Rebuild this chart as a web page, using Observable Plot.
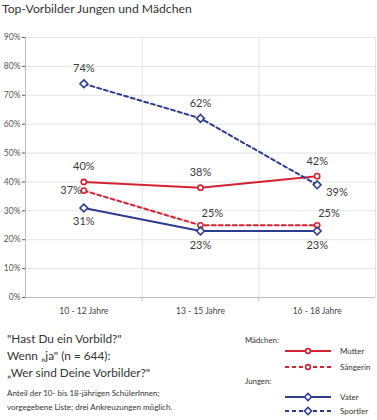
<!DOCTYPE html>
<html>
<head>
<meta charset="utf-8">
<script src="https://cdn.jsdelivr.net/npm/d3@7"></script>
<script src="https://cdn.jsdelivr.net/npm/@observablehq/plot@0.6"></script>
<style>
  html, body { margin: 0; padding: 0; background: #fff; }
  #wrap { position: relative; width: 377px; height: 420px; overflow: hidden; font-family: Lato, "Open Sans", sans-serif; color: #333; }
  #title { position: absolute; left: 2px; top: 1px; font-size: 12.2px; line-height: 16px; color: #333; white-space: nowrap; }
  #chart { position: absolute; left: 0; top: 22px; }
  #bottom { position: absolute; left: 0; top: 322px; }
</style>
</head>
<body>
<div id="wrap">
  <div id="title">Top-Vorbilder Jungen und Mädchen</div>
  <div id="chart"></div>
  <div id="bottom"></div>
</div>
<script>
// ---- data ----
const ageGroups = ["10 - 12 Jahre", "13 - 15 Jahre", "16 - 18 Jahre"];
const seriesNames = ["Mutter", "Sängerin", "Vater", "Sportler"];
const seriesGroups = ["Mädchen:", "Mädchen:", "Jungen:", "Jungen:"];
const mutter = [40, 38, 42];
const saengerin = [37, 25, 25];
const vater = [31, 23, 23];
const sportler = [74, 62, 39];
const yTicks = [0, 10, 20, 30, 40, 50, 60, 70, 80, 90];
const labelPlacement = {
  "Mutter": ["above", "above", "above"],
  "Sängerin": ["left", "aboveRight", "aboveRight"],
  "Vater": ["below", "below", "below"],
  "Sportler": ["above", "above", "belowRight"]
};
const questionLines = ["\"Hast Du ein Vorbild?\"", "Wenn „ja\" (n = 644):", "„Wer sind Deine Vorbilder?\""];
const noteLines = ["Anteil der 10- bis 18-jährigen SchülerInnen;", "vorgegebene Liste; drei Ankreuzungen möglich."];

// ---- styles ----
const RED = "#d42233", BLUE = "#2d3d8e";
const style = {
  "Mutter":   {stroke: RED,  dash: null,  symbol: "circle",   r: 2.6},
  "Sängerin": {stroke: RED,  dash: "4,3", symbol: "circle",   r: 2.6},
  "Vater":    {stroke: BLUE, dash: null,  symbol: "diamond2", r: 3.5},
  "Sportler": {stroke: BLUE, dash: "4,3", symbol: "diamond2", r: 3.5}
};
const values = [mutter, saengerin, vater, sportler];
const rows = [];
seriesNames.forEach((s, k) => values[k].forEach((v, i) => rows.push({series: s, i, age: ageGroups[i], value: v, place: labelPlacement[s][i]})));

const placements = {
  above:      {dx: 0,  dy: -15, textAnchor: "middle"},
  below:      {dx: 0,  dy: 14,  textAnchor: "middle"},
  left:       {dx: -2, dy: 0,   textAnchor: "end"},
  aboveRight: {dx: 1,  dy: -12, textAnchor: "start"},
  belowRight: {dx: 9,  dy: 8,   textAnchor: "start"}
};

const marks = [
  Plot.ruleY(yTicks.filter(d => d > 0), {stroke: "#e3e3e3"}),
  Plot.ruleX([1, 2, 3], {stroke: "#e3e3e3"}),
  Plot.ruleX([0], {stroke: "#bdbdbd"}),
  Plot.ruleY([0], {stroke: "#bdbdbd"}),
  Plot.ruleX([1, 2], {y1: 0, y2: -1.3, stroke: "#bdbdbd"}),
  Plot.text(ageGroups, {x: (d, i) => i + 0.5, y: 0, dy: 14, text: d => d, fontSize: 8.5, fill: "#444"})
];
for (const s of seriesNames) {
  const st = style[s];
  const data = rows.filter(r => r.series === s);
  marks.push(Plot.line(data, {x: d => d.i + 0.5, y: "value", stroke: st.stroke, strokeWidth: 2, strokeDasharray: st.dash}));
}
for (const s of seriesNames) {
  const st = style[s];
  const data = rows.filter(r => r.series === s);
  marks.push(Plot.dot(data, {x: d => d.i + 0.5, y: "value", symbol: st.symbol, r: st.r, stroke: st.stroke, strokeWidth: 1.6, fill: "white"}));
}
for (const [p, o] of Object.entries(placements)) {
  marks.push(Plot.text(rows.filter(r => r.place === p), {x: d => d.i + 0.5, y: "value", text: d => d.value + "%", dx: o.dx, dy: o.dy, textAnchor: o.textAnchor, fontSize: 11, fill: "#3a3a3a"}));
}

const chart = Plot.plot({
  width: 377,
  height: 300,
  marginTop: 15,
  marginLeft: 25,
  marginRight: 2,
  marginBottom: 25,
  style: {fontFamily: "Lato, 'Open Sans', sans-serif", fontSize: "8.5px", color: "#555", background: "white"},
  x: {type: "linear", domain: [0, 3], axis: null},
  y: {domain: [0, 90], ticks: yTicks, tickFormat: d => d + "%", tickSize: 3, tickPadding: 2, label: null},
  marks
});
document.getElementById("chart").appendChild(chart);

// ---- bottom text and legend ----
const svg = d3.select("#bottom").append("svg").attr("width", 377).attr("height", 98)
  .style("font-family", "Lato, 'Open Sans', sans-serif");
svg.selectAll("text.q").data(questionLines).join("text")
  .attr("x", 7).attr("y", (d, i) => 21 + i * 17).attr("font-size", 11.8).attr("fill", "#333").text(d => d);
svg.selectAll("text.n").data(noteLines).join("text")
  .attr("x", 7).attr("y", (d, i) => 74 + i * 14).attr("font-size", 8).attr("fill", "#333").text(d => d);

const legY = [29, 45, 75, 89];
const headY = [18, 59];
["Mädchen:", "Jungen:"].forEach((g, j) => {
  svg.append("text").attr("x", 245).attr("y", headY[j] + 3).attr("font-size", 7.8).attr("fill", "#333").text(g);
});
seriesNames.forEach((s, k) => {
  const st = style[s];
  const y = legY[k];
  svg.append("line").attr("x1", 285).attr("x2", 331).attr("y1", y).attr("y2", y)
    .attr("stroke", st.stroke).attr("stroke-width", 2).attr("stroke-dasharray", st.dash);
  const sym = st.symbol === "circle" ? d3.symbolCircle : d3.symbolDiamond2;
  svg.append("path").attr("d", d3.symbol(sym, Math.PI * st.r * st.r * 0.85)())
    .attr("transform", `translate(308,${y})`).attr("fill", "white").attr("stroke", st.stroke).attr("stroke-width", 1.6);
  svg.append("text").attr("x", 340).attr("y", y + 3).attr("font-size", 8).attr("fill", "#333").text(s);
});
</script>
</body>
</html>
